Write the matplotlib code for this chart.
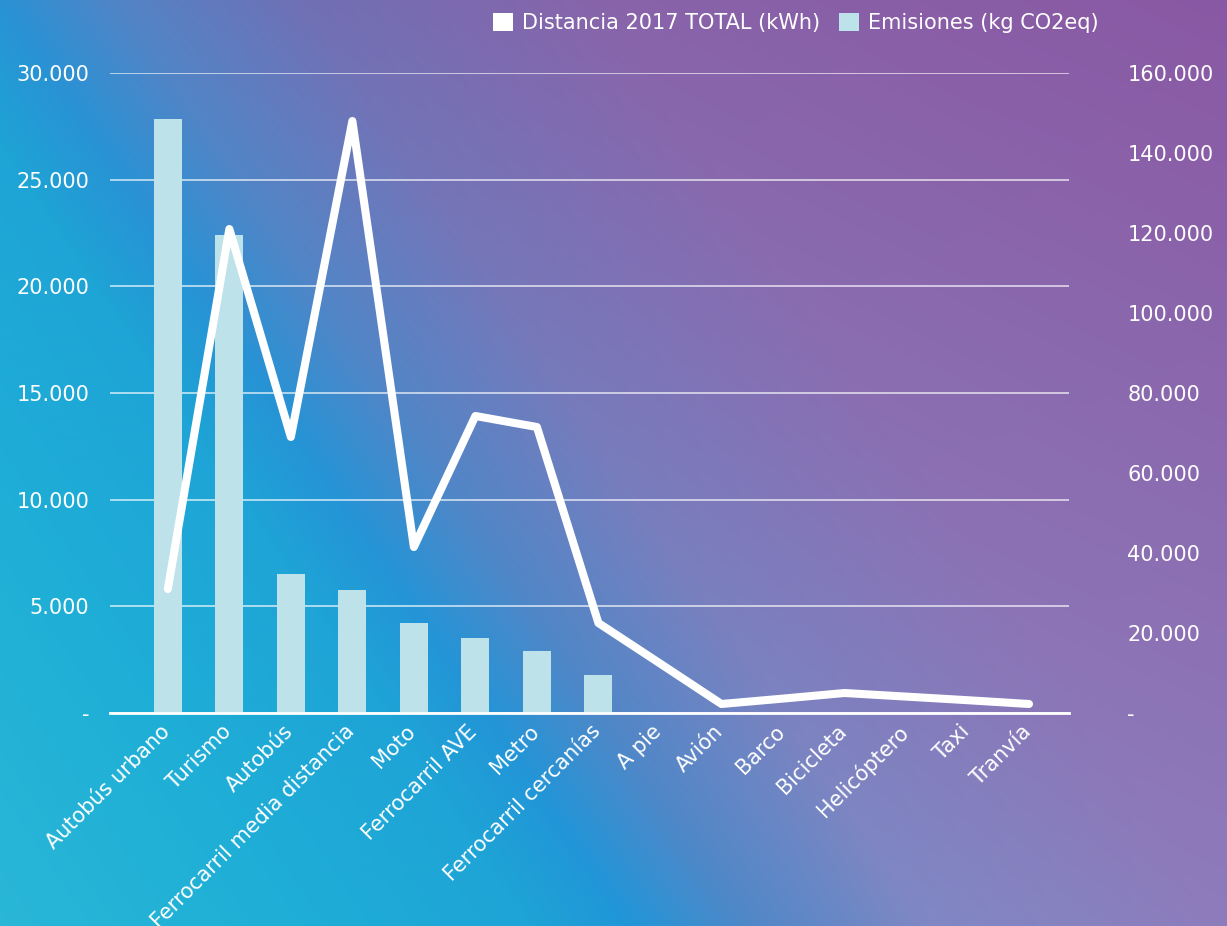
import numpy as np
import matplotlib
matplotlib.use("Agg")
import matplotlib.pyplot as plt
from matplotlib.colors import to_rgb
from matplotlib.patches import Patch
from matplotlib.transforms import ScaledTranslation
from matplotlib.ticker import FuncFormatter, MultipleLocator

categorias = ["Autobús urbano", "Turismo", "Autobús", "Ferrocarril media distancia",
              "Moto", "Ferrocarril AVE", "Metro", "Ferrocarril cercanías", "A pie",
              "Avión", "Barco", "Bicicleta", "Helicóptero", "Taxi", "Tranvía"]

# kg CO2eq (eje izquierdo)
emisiones = [27850, 22400, 6520, 5770, 4220, 3520, 2900, 1780,
             0, 0, 0, 0, 0, 0, 0]

# kWh (eje derecho)
distancia = [31000, 121000, 69000, 148000, 41500, 74250, 71500, 22500,
             12400, 2250, 3600, 5000, 4100, 3200, 2250]

W, H = 1227, 926
fig = plt.figure(figsize=(W / 100, H / 100), dpi=100)

# fondo degradado: banda azul inclinada, cian abajo a la izquierda,
# morado arriba a la derecha y lavanda abajo a la derecha
yy, xx = np.mgrid[0:H, 0:W]
u = xx - 0.68 * yy
pos = np.array([-700, -350, -100, 0, 120, 300, 600, 1227], dtype=float)
arriba = ["#2cb9d8", "#1fafd6", "#1ea4d6", "#2a92d4", "#5284c6", "#7070b5", "#8864aa", "#8a58a4"]
abajo = ["#2cb9d8", "#1fafd6", "#1ea4d6", "#2196d8", "#5088c8", "#8088c4", "#8e7cbc", "#8e72b4"]
c_top = np.array([to_rgb(c) for c in arriba])
c_bot = np.array([to_rgb(c) for c in abajo])
top = np.dstack([np.interp(u, pos, c_top[:, k]) for k in range(3)])
bot = np.dstack([np.interp(u, pos, c_bot[:, k]) for k in range(3)])
f = (yy / (H - 1))[..., None]
img = top * (1 - f) + bot * f

bg = fig.add_axes([0, 0, 1, 1], zorder=-10)
bg.imshow(img, aspect="auto", interpolation="bilinear")
bg.axis("off")

ax = fig.add_axes([110 / W, 1 - 713 / H, (1069 - 110) / W, (713 - 73) / H])
ax.patch.set_alpha(0)
ax2 = ax.twinx()
ax2.patch.set_alpha(0)

x = np.arange(len(categorias))
ax.bar(x, emisiones, width=0.455, color="#bee2ea", zorder=2)
ax2.plot(x, distancia, color="white", lw=5.8,
         solid_joinstyle="round", solid_capstyle="round", zorder=3)

ax.set_xlim(-0.94, 14.65)
ax.set_ylim(0, 30000)
ax2.set_ylim(0, 160000)
ax.yaxis.set_major_locator(MultipleLocator(5000))
ax2.yaxis.set_major_locator(MultipleLocator(20000))


def miles(v, _):
    if v == 0:
        return "-"
    return f"{v:,.0f}".replace(",", ".")


ax.yaxis.set_major_formatter(FuncFormatter(miles))
ax2.yaxis.set_major_formatter(FuncFormatter(miles))

ax.grid(axis="y", color="white", lw=1.1, alpha=0.8, zorder=1)
ax.set_axisbelow(True)

for a in (ax, ax2):
    for s in a.spines.values():
        s.set_visible(False)
ax.spines["bottom"].set_visible(True)
ax.spines["bottom"].set_color("white")
ax.spines["bottom"].set_linewidth(2)

fs = 15
ax.tick_params(axis="y", length=0, pad=15, labelsize=fs, labelcolor="white")
ax2.tick_params(axis="y", length=0, pad=42, labelsize=fs, labelcolor="white")
ax.tick_params(axis="x", length=0, pad=6, labelsize=fs, labelcolor="white")
ax.set_xticks(x)
ax.set_xticklabels(categorias, rotation=45, ha="right", rotation_mode="anchor")
shift = ScaledTranslation(-6 / 72, 0, fig.dpi_scale_trans)
for lbl in ax.get_xticklabels():
    lbl.set_transform(lbl.get_transform() + shift)

handles = [Patch(facecolor="white", edgecolor="none"),
           Patch(facecolor="#bee2ea", edgecolor="none")]
fig.legend(handles, ["Distancia 2017 TOTAL (kWh)", "Emisiones (kg CO2eq)"],
           loc="center", bbox_to_anchor=(796 / W, 1 - 23 / H), ncol=2,
           frameon=False, fontsize=fs, labelcolor="white",
           handlelength=0.95, handleheight=0.95, handletextpad=0.45,
           columnspacing=0.9)

fig.savefig("out.png", dpi=100)
